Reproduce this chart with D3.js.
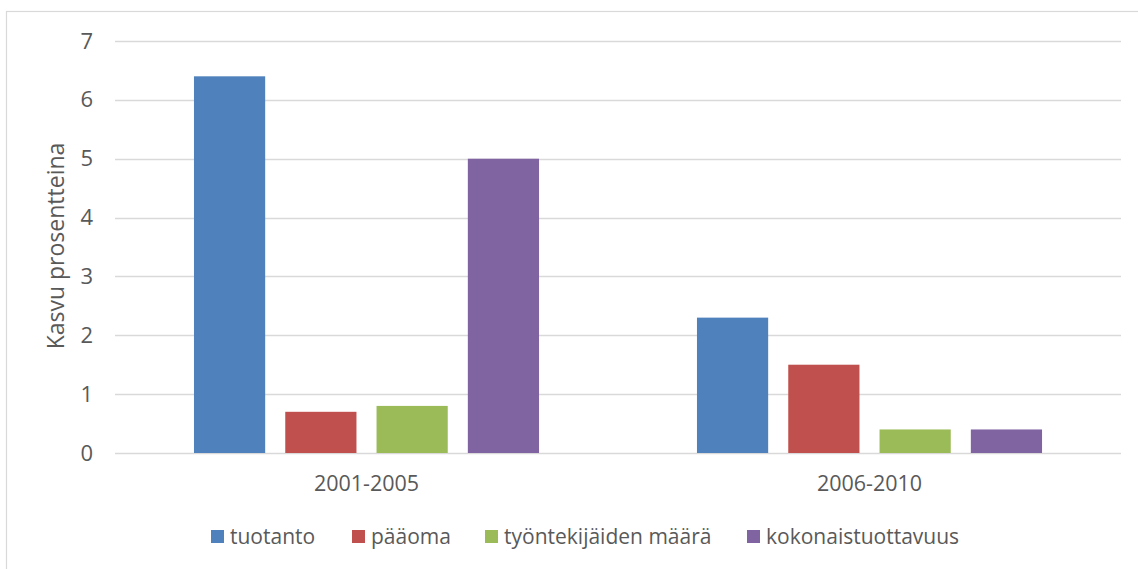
<!DOCTYPE html>
<html>
<head>
<meta charset="utf-8">
<script src="https://cdn.jsdelivr.net/npm/d3@7"></script>
<style>
  body { margin: 0; background: #fff; }
  svg { display: block; font-family: "Open Sans", "Liberation Sans", Arial, sans-serif; }
</style>
</head>
<body>
<div id="vis"></div>
<script>
// data
let periods = ["2001-2005", "2006-2010"]
let series = ["tuotanto", "pääoma", "työntekijäiden määrä", "kokonaistuottavuus"]
let tuotanto = [6.4, 2.3]
let paaoma = [0.7, 1.5]
let tyontekijat = [0.8, 0.4]
let kokonais = [5.0, 0.4]
let yTicks = [0, 1, 2, 3, 4, 5, 6, 7]
let colors = ["#4F81BD", "#C0504D", "#9BBB59", "#8064A2"]

let values = [tuotanto, paaoma, tyontekijat, kokonais]
let rows = []
periods.forEach((p, i) => {
    series.forEach((s, j) => rows.push({period: p, series: s, value: values[j][i]}))
})

let config = {width: 1138, height: 569}
let plot = {left: 115, right: 1121, top: 41, bottom: 453}
let textColor = "#595959"

let svg = d3.select("#vis").append("svg")
    .attr("width", config.width)
    .attr("height", config.height)

// chart border
svg.append("rect")
    .attr("x", 6.5).attr("y", 11.5)
    .attr("width", 1200).attr("height", 700)
    .attr("fill", "none")
    .attr("stroke", "#d9d9d9")
    .attr("stroke-width", 1.2)

let y = d3.scaleLinear().domain([0, 7]).range([plot.bottom, plot.top])
let x0 = d3.scaleBand().domain(periods).range([plot.left, plot.right]).padding(0)
let x1 = d3.scaleBand().domain(series).range([0, x0.bandwidth()])
    .paddingInner(0.22).paddingOuter(0.865)
let color = d3.scaleOrdinal().domain(series).range(colors)

// grid
svg.append("g")
    .selectAll("line")
    .data(yTicks)
    .join("line")
    .attr("x1", plot.left).attr("x2", plot.right)
    .attr("y1", d => Math.round(y(d)) + 0.5)
    .attr("y2", d => Math.round(y(d)) + 0.5)
    .attr("stroke", "#d9d9d9")
    .attr("stroke-width", 1.3)

// y axis labels
let yAxis = svg.append("g")
    .attr("transform", `translate(${plot.left - 22},0)`)
    .call(d3.axisLeft(y).tickValues(yTicks).tickFormat(d3.format("d")).tickSize(0).tickPadding(0))
yAxis.select(".domain").remove()
yAxis.selectAll("text")
    .attr("fill", textColor)
    .attr("font-size", 22)
    .attr("font-family", "Open Sans, sans-serif")

// x axis labels
let xAxis = svg.append("g")
    .attr("transform", `translate(0,${plot.bottom + 23})`)
    .call(d3.axisBottom(x0).tickSize(0).tickPadding(0))
xAxis.select(".domain").remove()
xAxis.selectAll("text")
    .attr("fill", textColor)
    .attr("font-size", 21.5)
    .attr("font-family", "Open Sans, sans-serif")

// bars
svg.append("g")
    .selectAll("rect")
    .data(rows)
    .join("rect")
    .attr("x", d => x0(d.period) + x1(d.series))
    .attr("width", x1.bandwidth())
    .attr("y", d => y(d.value))
    .attr("height", d => y(0) - y(d.value))
    .attr("fill", d => color(d.series))

// y title
svg.append("text")
    .attr("transform", "translate(64,246) rotate(-90)")
    .attr("text-anchor", "middle")
    .attr("fill", textColor)
    .attr("font-size", 23)
    .text("Kasvu prosentteina")

// legend
let legendX = [211, 352, 485, 747]
let legend = svg.append("g")
    .selectAll("g")
    .data(series)
    .join("g")
    .attr("transform", (d, i) => `translate(${legendX[i]},530)`)
legend.append("rect")
    .attr("width", 13).attr("height", 13)
    .attr("fill", d => color(d))
legend.append("text")
    .attr("x", 19).attr("y", 7)
    .attr("dy", "0.35em")
    .attr("fill", textColor)
    .attr("font-size", 21)
    .text(d => d)
</script>
</body>
</html>
